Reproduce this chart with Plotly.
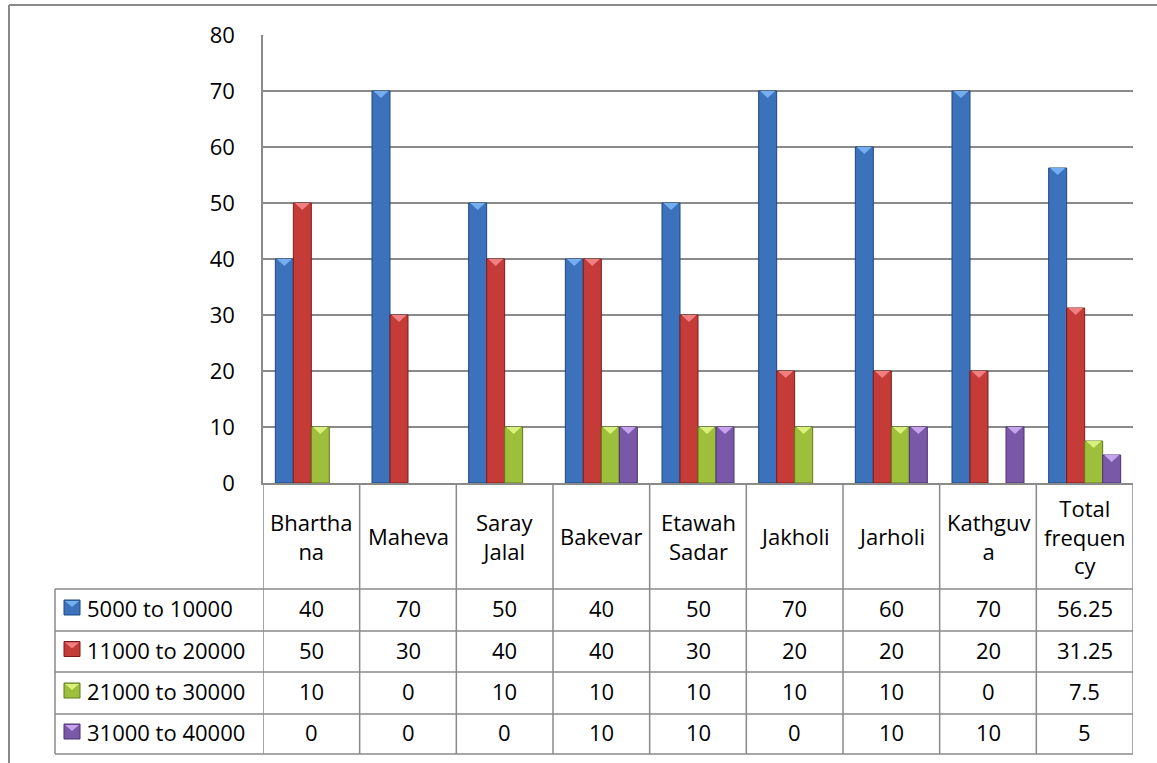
import plotly.graph_objects as go

# Data
categories = ["Bhartha<br>na", "Maheva", "Saray<br>Jalal", "Bakevar", "Etawah<br>Sadar",
              "Jakholi", "Jarholi", "Kathguv<br>a", "Total<br>frequen<br>cy"]
series_names = ["5000 to 10000", "11000 to 20000", "21000 to 30000", "31000 to 40000"]
s_5000_10000 = [40, 70, 50, 40, 50, 70, 60, 70, 56.25]
s_11000_20000 = [50, 30, 40, 40, 30, 20, 20, 20, 31.25]
s_21000_30000 = [10, 0, 10, 10, 10, 10, 10, 0, 7.5]
s_31000_40000 = [0, 0, 0, 10, 10, 0, 10, 10, 5]
y_ticks = [0, 10, 20, 30, 40, 50, 60, 70, 80]

series_values = [s_5000_10000, s_11000_20000, s_21000_30000, s_31000_40000]
fill_colors = ["#3b72bb", "#c43b38", "#9dbf3c", "#7a58a8"]
edge_colors = ["#1f4880", "#7d1d1b", "#5f7a1e", "#4a3270"]
bevel_colors = ["#74aef0", "#ef7f80", "#d9f07c", "#c7a3ef"]

FONT = "'Open Sans', sans-serif"
FS = 22
GRID = "#8a8a8a"

W, H = 1157, 763
ML, MR, MT, MB = 263, 24, 35, 280
PW, PH = W - ML - MR, H - MT - MB
BARGAP = 0.255


def px_x(px):
    return (px - ML) / PW


def px_y(py):
    return (H - MB - py) / PH


n_cat = len(categories)
idx = list(range(n_cat))

fig = go.Figure()
for name, vals, fc, ec in zip(series_names, series_values, fill_colors, edge_colors):
    fig.add_trace(go.Bar(
        x=idx, y=vals, name=name,
        marker=dict(color=fc, line=dict(color=ec, width=[1 if v > 0 else 0 for v in vals])),
        showlegend=False, hoverinfo="skip",
    ))

shapes = []
annotations = []

# bevelled tops of the bars
bw = (1 - BARGAP) / len(series_values)
for j, (vals, bc) in enumerate(zip(series_values, bevel_colors)):
    off = -(1 - BARGAP) / 2 + (j + 0.5) * bw
    for i, v in enumerate(vals):
        if v <= 0:
            continue
        xc = i + off
        x0, x1 = xc - bw * 0.42, xc + bw * 0.42
        shapes.append(dict(
            type="path", xref="x", yref="y", ysizemode="pixel", yanchor=v,
            path=f"M {x0},0 L {x1},0 L {xc},-7 Z",
            fillcolor=bc, line=dict(width=0), layer="above",
        ))

# outer chart frame (left and top edges)
shapes.append(dict(type="line", xref="paper", yref="paper",
                   x0=px_x(9), x1=px_x(9), y0=px_y(5), y1=px_y(H + 5),
                   line=dict(color=GRID, width=2)))
shapes.append(dict(type="line", xref="paper", yref="paper",
                   x0=px_x(9), x1=px_x(W + 5), y0=px_y(5), y1=px_y(5),
                   line=dict(color=GRID, width=2)))

# data table grid
header_bottom = 589
row_lines = [589, 631, 672, 714, 754]
table_left = 55
table_right = ML + PW
for ry in row_lines:
    shapes.append(dict(type="line", xref="paper", yref="paper",
                       x0=px_x(table_left), x1=px_x(table_right), y0=px_y(ry), y1=px_y(ry),
                       line=dict(color=GRID, width=1.5)))
shapes.append(dict(type="line", xref="paper", yref="paper",
                   x0=px_x(table_left), x1=px_x(table_left), y0=px_y(row_lines[0]), y1=px_y(row_lines[-1]),
                   line=dict(color=GRID, width=1.5)))
for k in range(n_cat + 1):
    shapes.append(dict(type="line", xref="x", yref="paper",
                       x0=k - 0.5, x1=k - 0.5, y0=0, y1=px_y(row_lines[-1]),
                       line=dict(color=GRID, width=1.5)))

# category header cells
hdr_mid = (H - MB + header_bottom) / 2
for i, c in enumerate(categories):
    annotations.append(dict(x=i, y=px_y(hdr_mid), xref="x", yref="paper",
                            text=c, showarrow=False, xanchor="center", yanchor="middle",
                            font=dict(family=FONT, size=FS, color="#000")))

# value rows with legend keys
for r, (name, vals, fc, ec, bc) in enumerate(zip(series_names, series_values, fill_colors,
                                                   edge_colors, bevel_colors)):
    mid = (row_lines[r] + row_lines[r + 1]) / 2 - 2
    shapes.append(dict(type="rect", xref="paper", yref="paper",
                       x0=px_x(64), x1=px_x(80), y0=px_y(mid - 8), y1=px_y(mid + 7),
                       fillcolor=fc, line=dict(color=ec, width=1)))
    shapes.append(dict(type="path", xref="paper", yref="paper",
                       path=f"M {px_x(65)},{px_y(mid - 7)} L {px_x(79)},{px_y(mid - 7)} L {px_x(72)},{px_y(mid - 1)} Z",
                       fillcolor=bc, line=dict(width=0)))
    annotations.append(dict(x=px_x(85), y=px_y(mid), xref="paper", yref="paper",
                            text=name, showarrow=False, xanchor="left", yanchor="middle",
                            font=dict(family=FONT, size=FS, color="#000")))
    for i, v in enumerate(vals):
        annotations.append(dict(x=i, y=px_y(mid), xref="x", yref="paper",
                                text=f"{v:g}", showarrow=False, xanchor="center", yanchor="middle",
                                font=dict(family=FONT, size=FS, color="#000")))

fig.update_layout(
    width=W, height=H,
    margin=dict(l=ML, r=MR, t=MT, b=MB),
    paper_bgcolor="white", plot_bgcolor="white",
    barmode="group", bargap=BARGAP, bargroupgap=0,
    font=dict(family=FONT, size=FS, color="#000"),
    shapes=shapes, annotations=annotations,
    xaxis=dict(range=[-0.5, n_cat - 0.5], showticklabels=False, showgrid=False,
               zeroline=False, showline=True, linecolor=GRID, linewidth=1.5, ticks=""),
    yaxis=dict(range=[0, 80], tickvals=y_ticks, showgrid=True, gridcolor=GRID, gridwidth=1.5,
               zeroline=False, showline=True, linecolor=GRID, linewidth=1.5, ticks="",
               ticklabelstandoff=22, tickfont=dict(family=FONT, size=FS, color="#000")),
)

fig.write_html("out.html")
